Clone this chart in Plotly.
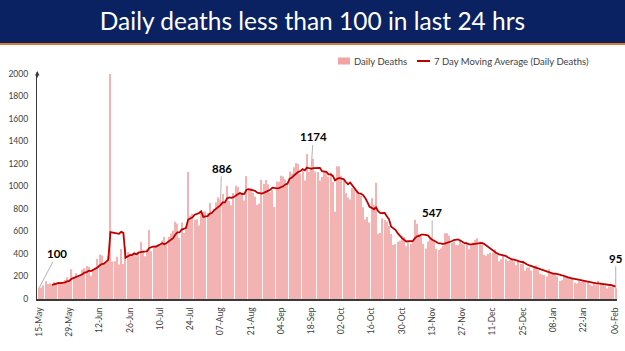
import pandas as pd
import plotly.graph_objects as go

# ---------------- data ----------------
start_date = "2020-05-15"
end_date = "2021-02-06"

deaths_may = [100, 103, 120, 157, 134, 140, 132, 148, 137, 147, 154, 146, 170, 194, 175, 265, 193]
deaths_jun = [230, 204, 217, 260, 273, 294, 287, 206, 266, 279, 357, 396, 386, 311, 325, 380, 2003,
              334, 336, 375, 306, 445, 312, 465, 418, 407, 384, 410, 380, 418]
deaths_jul = [507, 434, 379, 442, 613, 425, 467, 482, 487, 475, 519, 551, 500, 553, 582, 606, 687,
              671, 543, 681, 587, 648, 1129, 740, 757, 705, 708, 654, 768, 775, 779]
deaths_aug = [764, 853, 771, 803, 857, 904, 886, 933, 861, 1007, 871, 834, 942, 1007, 996, 944, 941,
              876, 1092, 977, 983, 945, 912, 836, 848, 1059, 1023, 1057, 1021, 948, 971]
deaths_sep = [819, 1045, 1043, 1096, 1089, 1065, 1016, 1133, 1115, 1172, 1209, 1201, 1114, 1136, 1054,
              1290, 1132, 1174, 1247, 1133, 1130, 1053, 1085, 1129, 1141, 1089, 1124, 1039, 776, 1179]
deaths_oct = [1181, 1095, 1069, 940, 903, 884, 986, 971, 964, 926, 918, 816, 706, 730, 680, 895, 837,
              1033, 579, 587, 717, 702, 690, 650, 578, 480, 488, 508, 517, 563, 551]
deaths_nov = [470, 496, 490, 514, 704, 670, 577, 559, 490, 448, 512, 550, 547, 520, 447, 435, 449,
              474, 585, 584, 564, 501, 511, 480, 481, 524, 492, 485, 496, 443]
deaths_dec = [482, 501, 526, 540, 512, 482, 391, 385, 402, 412, 414, 442, 391, 336, 354, 387, 355,
              338, 347, 341, 333, 301, 333, 312, 336, 251, 279, 279, 252, 286, 299]
deaths_jan = [256, 224, 217, 214, 201, 264, 222, 234, 228, 201, 161, 167, 202, 198, 191, 175, 181,
              145, 137, 162, 151, 163, 152, 155, 131, 117, 137, 123, 163, 137, 127]
deaths_feb = [118, 94, 110, 107, 120, 95]

tick_dates = ["2020-05-15", "2020-05-29", "2020-06-12", "2020-06-26", "2020-07-10", "2020-07-24",
              "2020-08-07", "2020-08-21", "2020-09-04", "2020-09-18", "2020-10-02", "2020-10-16",
              "2020-10-30", "2020-11-13", "2020-11-27", "2020-12-11", "2020-12-25", "2021-01-08",
              "2021-01-22", "2021-02-06"]
tick_labels = ["15-May", "29-May", "12-Jun", "26-Jun", "10-Jul", "24-Jul", "07-Aug", "21-Aug",
               "04-Sep", "18-Sep", "02-Oct", "16-Oct", "30-Oct", "13-Nov", "27-Nov", "11-Dec",
               "25-Dec", "08-Jan", "22-Jan", "06-Feb"]

label_dates = ["2020-05-15", "2020-08-07", "2020-09-18", "2020-11-13", "2021-02-06"]

y_ticks = [0, 200, 400, 600, 800, 1000, 1200, 1400, 1600, 1800, 2000]

title_text = "Daily deaths less than 100 in last 24 hrs"
bar_name = "Daily Deaths"
line_name = "7 Day Moving Average (Daily Deaths)"

# ---------------- build ----------------
dates = pd.date_range(start_date, end_date, freq="D")
deaths = (deaths_may + deaths_jun + deaths_jul + deaths_aug + deaths_sep +
          deaths_oct + deaths_nov + deaths_dec + deaths_jan + deaths_feb)
series = pd.Series(deaths, index=dates)
moving_avg = series.rolling(7).mean()

W, H = 625, 351
def px(x):
    return x / W
def py(y):
    return (H - y) / H

FONT = "Lato"
TXT = "#404040"

fig = go.Figure()
fig.add_trace(go.Bar(x=dates, y=deaths, name=bar_name, marker=dict(color="#f3b3b3", line=dict(width=0)),
                     showlegend=False))
fig.add_trace(go.Scatter(x=dates, y=moving_avg.values, name=line_name, mode="lines",
                         line=dict(color="#c00000", width=1.8), showlegend=False))

x0 = pd.Timestamp(start_date) - pd.Timedelta(days=1)
x1 = pd.Timestamp(end_date) + pd.Timedelta(hours=14)

fig.update_layout(
    width=W, height=H,
    margin=dict(l=0, r=0, t=0, b=0),
    paper_bgcolor="white", plot_bgcolor="white",
    bargap=0.45,
    font=dict(family=FONT, color=TXT),
    title=dict(text=title_text, x=0.5, xanchor="center", y=py(21), yanchor="middle",
               yref="container", font=dict(family=FONT, size=24.5, color="white")),
    xaxis=dict(domain=[px(37), px(617)], range=[x0, x1], type="date",
               tickvals=tick_dates, ticktext=tick_labels, tickangle=-90,
               showgrid=False, zeroline=False, showline=True, linecolor="#3a3a3a", linewidth=2,
               ticks="", tickfont=dict(size=8.5, color=TXT, family=FONT),
               automargin=False, ticklabelstandoff=3),
    yaxis=dict(domain=[py(299), py(74)], range=[0, 2000], tickvals=y_ticks,
               showgrid=False, zeroline=False, showline=True, linecolor="#3a3a3a", linewidth=1.3,
               ticks="", tickfont=dict(size=8.5, color=TXT, family=FONT),
               automargin=False, ticklabelstandoff=6),
)

shapes = [
    dict(type="rect", xref="paper", yref="paper", x0=0, x1=1, y0=py(43), y1=1,
         fillcolor="#0a2262", line=dict(width=0), layer="below"),
    dict(type="rect", xref="paper", yref="paper", x0=0, x1=1, y0=py(45), y1=py(43),
         fillcolor="#e0782f", line=dict(width=0), layer="below"),
    # legend swatches
    dict(type="rect", xref="paper", yref="paper", x0=px(338), x1=px(350), y0=py(64.5), y1=py(57.5),
         fillcolor="#f4a3a3", line=dict(width=0)),
    dict(type="line", xref="paper", yref="paper", x0=px(417), x1=px(430), y0=py(61), y1=py(61),
         line=dict(color="#c00000", width=2)),
]
fig.update_layout(shapes=shapes)

annotations = [
    dict(xref="paper", yref="paper", x=px(352), y=py(61), xanchor="left", yanchor="middle",
         text=bar_name, showarrow=False, font=dict(size=9.5, color=TXT, family=FONT)),
    dict(xref="paper", yref="paper", x=px(432), y=py(61), xanchor="left", yanchor="middle",
         text=line_name, showarrow=False, font=dict(size=9.5, color=TXT, family=FONT)),
    # y-axis arrow head
    dict(xref="paper", yref="paper", x=px(37.3), y=py(71), ax=0, ay=8, text="", showarrow=True,
         arrowhead=2, arrowsize=0.7, arrowwidth=1.3, arrowcolor="#3a3a3a"),
]

offsets = {"2020-05-15": (18, -34), "2020-08-07": (1, -31), "2020-09-18": (2, -30),
           "2020-11-13": (0, -25), "2021-02-06": (0, -30)}
for d in label_dates:
    v = int(series[pd.Timestamp(d)])
    ax, ay = offsets[d]
    annotations.append(dict(x=d, y=v, xref="x", yref="y", text="<b>%d</b>" % v,
                            showarrow=True, arrowhead=0, arrowwidth=0.8, arrowcolor="#a0a0a0",
                            ax=ax, ay=ay, standoff=0,
                            font=dict(size=11.5, color="black", family=FONT)))
fig.update_layout(annotations=annotations)

fig.write_html("out.html")
